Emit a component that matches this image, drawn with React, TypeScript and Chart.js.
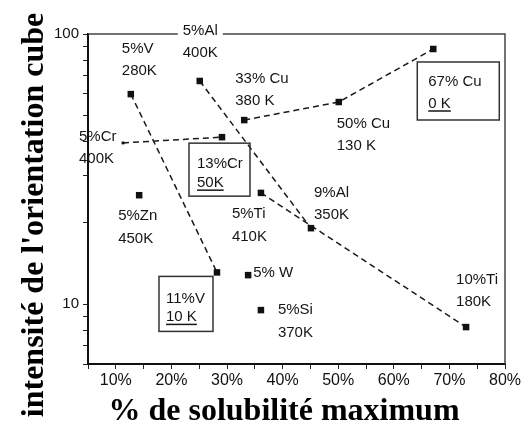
import React, { useEffect, useRef } from "react";
import { Chart, registerables } from "chart.js";

Chart.register(...registerables);

// ---- data ----
const pointNames = [
  "5%V 280K", "11%V 10K", "5%Al 400K", "9%Al 350K", "5%Ti 410K", "10%Ti 180K",
  "5%Cr 400K", "13%Cr 50K", "33% Cu 380K", "50% Cu 130K", "67% Cu 0K",
  "5%Zn 450K", "5% W", "5%Si 370K",
];
const solubility = [12.7, 28.2, 25.1, 45.1, 36.1, 73.0, 11.3, 29.1, 33.1, 50.1, 67.1, 14.2, 33.8, 36.1];
const intensity = [59.9, 13.1, 67.0, 19.1, 25.8, 8.22, 39.5, 41.5, 48.0, 56.0, 88.0, 25.3, 12.8, 9.5];

const seriesV = [0, 1];
const seriesAl = [2, 3];
const seriesTi = [4, 5];
const seriesCr = [6, 7];
const seriesCu = [8, 9, 10];
const singles = [11, 12, 13];

const xTickValues = [5, 10, 15, 20, 25, 30, 35, 40, 45, 50, 55, 60, 65, 70, 75, 80];
const xTickLabels = ["", "10%", "", "20%", "", "30%", "", "40%", "", "50%", "", "60%", "", "70%", "", "80%"];
const yTickValues = [6, 7, 8, 9, 10, 20, 30, 40, 50, 60, 70, 80, 90, 100];
const yTickLabels = ["", "", "", "", "10", "", "", "", "", "", "", "", "", "100"];

const xTitle = "% de solubilité maximum";
const yTitle = "intensité de l'orientation cube";

// annotation layout (pixel offsets from the anchor point)
type Ann = { pt: number; lines: string[]; dx: number; dy: number; gap: number; box?: number[]; underline2?: boolean; bg?: boolean };
const annotations: Ann[] = [
  { pt: 0, lines: ["5%V", "280K"], dx: -9, dy: -41, gap: 22 },
  { pt: 1, lines: ["11%V", "10 K"], dx: -51, dy: 31, gap: 18, box: [-58, 4, -4, 59], underline2: true },
  { pt: 2, lines: ["5%Al", "400K"], dx: -17, dy: -46, gap: 22, bg: true },
  { pt: 3, lines: ["9%Al", "350K"], dx: 3, dy: -31, gap: 22 },
  { pt: 4, lines: ["5%Ti", "410K"], dx: -29, dy: 25, gap: 23 },
  { pt: 5, lines: ["10%Ti", "180K"], dx: -10, dy: -43, gap: 22 },
  { pt: 6, lines: ["5%Cr", "400K"], dx: -44, dy: -2, gap: 22 },
  { pt: 7, lines: ["13%Cr", "50K"], dx: -25, dy: 31, gap: 19, box: [-33, 6, 28, 59], underline2: true },
  { pt: 8, lines: ["33% Cu", "380 K"], dx: -9, dy: -37, gap: 22 },
  { pt: 9, lines: ["50% Cu", "130 K"], dx: -2, dy: 26, gap: 22 },
  { pt: 10, lines: ["67% Cu", "0 K"], dx: -5, dy: 37, gap: 22, box: [-16, 13, 66, 71], underline2: true },
  { pt: 11, lines: ["5%Zn", "450K"], dx: -21, dy: 25, gap: 23 },
  { pt: 12, lines: ["5% W"], dx: 5, dy: 2, gap: 22 },
  { pt: 13, lines: ["5%Si", "370K"], dx: 17, dy: 4, gap: 23 },
];

const SANS = "'Liberation Sans', Arial, sans-serif";
const SERIF = "'Liberation Serif', 'Times New Roman', serif";

function makeSeries(idx: number[], connect: boolean, radii?: number[]) {
  return {
    data: idx.map((i) => ({ x: solubility[i], y: intensity[i] })),
    showLine: connect,
    borderColor: "#1a1a1a",
    borderWidth: 1.5,
    borderDash: [6, 4],
    backgroundColor: "#111",
    pointBackgroundColor: "#111",
    pointBorderWidth: 0,
    pointStyle: "rect" as const,
    pointRadius: radii ?? 4.6,
  };
}

const annotPlugin = {
  id: "annot",
  beforeDatasetsDraw(chart: any) {
    const { ctx, chartArea } = chart;
    ctx.save();
    ctx.strokeStyle = "#444";
    ctx.lineWidth = 1.5;
    ctx.beginPath();
    ctx.moveTo(chartArea.left, chartArea.top);
    ctx.lineTo(chartArea.right, chartArea.top);
    ctx.lineTo(chartArea.right, chartArea.bottom);
    ctx.stroke();
    ctx.restore();
  },
  afterDraw(chart: any) {
    const { ctx, scales } = chart;
    const xs = scales.x;
    const ys = scales.y;
    ctx.save();
    ctx.font = `15px ${SANS}`;
    ctx.textBaseline = "alphabetic";
    ctx.textAlign = "left";
    for (const a of annotations) {
      const px = xs.getPixelForValue(solubility[a.pt]);
      const py = ys.getPixelForValue(intensity[a.pt]);
      const x = px + a.dx;
      if (a.bg) {
        const w = Math.max(...a.lines.map((l) => ctx.measureText(l).width));
        ctx.fillStyle = "#fff";
        ctx.fillRect(x - 5, py + a.dy - 14, w + 10, 18);
      }
      if (a.box) {
        ctx.strokeStyle = "#333";
        ctx.lineWidth = 1.5;
        ctx.strokeRect(px + a.box[0], py + a.box[1], a.box[2] - a.box[0], a.box[3] - a.box[1]);
      }
      ctx.fillStyle = "#151515";
      a.lines.forEach((l, k) => {
        const y = py + a.dy + k * a.gap;
        ctx.fillText(l, x, y);
        if (k === 1 && a.underline2) {
          const w = ctx.measureText(l).width;
          ctx.strokeStyle = "#151515";
          ctx.lineWidth = 1.5;
          ctx.beginPath();
          ctx.moveTo(x, y + 3);
          ctx.lineTo(x + w, y + 3);
          ctx.stroke();
        }
      });
    }
    // axis titles
    ctx.fillStyle = "#000";
    ctx.font = `bold 32px ${SERIF}`;
    ctx.textAlign = "center";
    ctx.fillText(xTitle, 284, 420);
    ctx.save();
    ctx.translate(43, 215);
    ctx.rotate(-Math.PI / 2);
    ctx.fillText(yTitle, 0, 0);
    ctx.restore();
    ctx.restore();
  },
};

export default function App() {
  const ref = useRef<HTMLCanvasElement>(null);
  useEffect(() => {
    document.body.style.margin = "0";
    const canvas = ref.current!;
    const chart = new Chart(canvas, {
      type: "scatter",
      data: {
        datasets: [
          makeSeries(seriesV, true),
          makeSeries(seriesAl, true),
          makeSeries(seriesTi, true),
          makeSeries(seriesCr, true, [2, 4.6]),
          makeSeries(seriesCu, true),
          makeSeries(singles, false),
        ] as any,
      },
      options: {
        animation: false,
        responsive: false,
        devicePixelRatio: 1,
        layout: { padding: { top: 34, right: 20, left: 0, bottom: 0 } },
        plugins: { legend: { display: false }, tooltip: { enabled: false } },
        scales: {
          x: {
            type: "linear",
            min: 5,
            max: 80,
            afterBuildTicks: (s: any) => {
              s.ticks = xTickValues.map((v) => ({ value: v }));
            },
            afterFit: (s: any) => {
              s.height = 62;
            },
            ticks: {
              autoSkip: false,
              maxRotation: 0,
              padding: 2,
              color: "#111",
              font: { family: SANS, size: 16 },
              callback: (_v: any, i: number) => xTickLabels[i],
            },
            grid: { drawOnChartArea: false, drawTicks: true, tickLength: 5, color: "#222", lineWidth: 1 },
            border: { display: true, color: "#111", width: 2 },
          },
          y: {
            type: "logarithmic",
            min: 6,
            max: 100,
            afterBuildTicks: (s: any) => {
              s.ticks = yTickValues.map((v) => ({ value: v }));
            },
            afterFit: (s: any) => {
              s.width = 88;
            },
            ticks: {
              autoSkip: false,
              padding: 4,
              color: "#111",
              font: { family: SANS, size: 15 },
              callback: (_v: any, i: number) => yTickLabels[i],
            },
            grid: { drawOnChartArea: false, drawTicks: true, tickLength: 5, color: "#222", lineWidth: 1 },
            border: { display: true, color: "#111", width: 2 },
          },
        },
      } as any,
      plugins: [annotPlugin],
    });
    return () => chart.destroy();
  }, []);
  return <canvas ref={ref} width={525} height={426} style={{ display: "block" }} />;
}
